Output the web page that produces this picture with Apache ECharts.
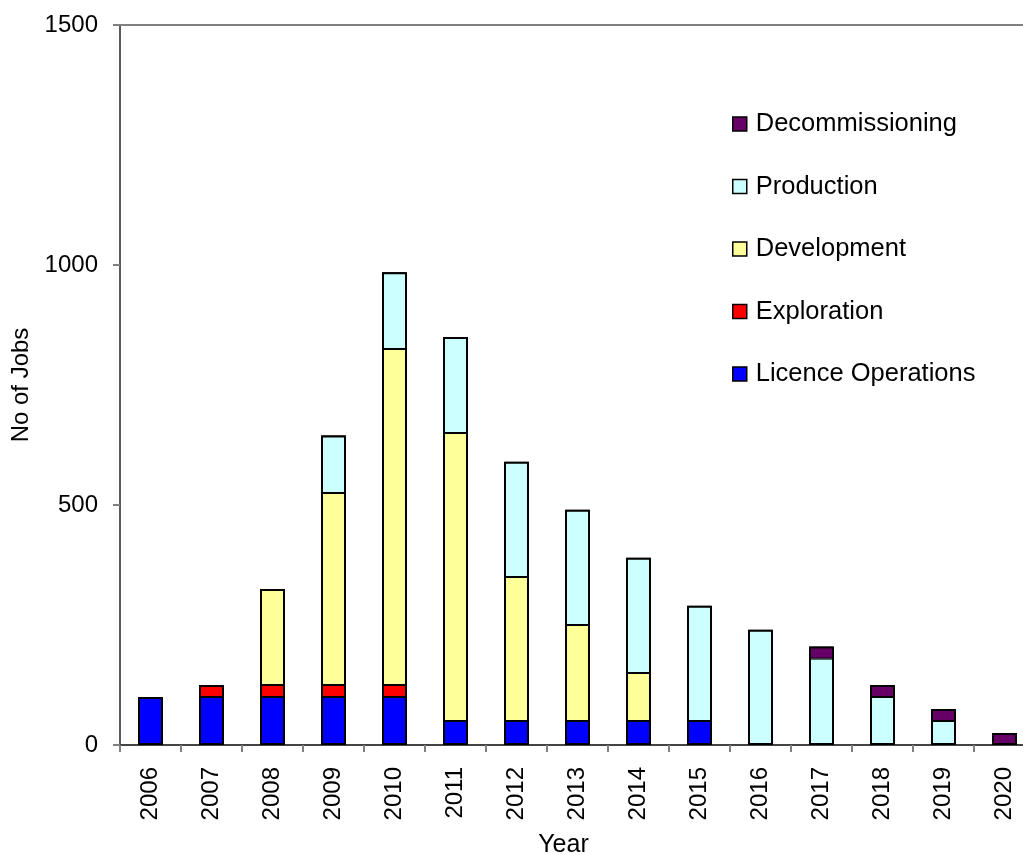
<!DOCTYPE html>
<html>
<head>
<meta charset="utf-8">
<title>No of Jobs by Year</title>
<script src="https://cdn.jsdelivr.net/npm/echarts@6/dist/echarts.min.js"></script>
<style>
  html, body { margin: 0; padding: 0; background: #ffffff; }
  #chart { width: 1023px; height: 854px; }
</style>
</head>
<body>
<div id="chart"></div>
<script>
// Years on the category axis
const years = ['2006', '2007', '2008', '2009', '2010', '2011', '2012', '2013',
               '2014', '2015', '2016', '2017', '2018', '2019', '2020'];

// Jobs per activity and year (stacked bottom to top)
const licenceOperations = [100, 100, 100, 100, 100, 50, 50, 50, 50, 50, 0, 0, 0, 0, 0];
const exploration       = [0, 25, 25, 25, 25, 0, 0, 0, 0, 0, 0, 0, 0, 0, 0];
const development       = [0, 0, 200, 400, 700, 600, 300, 200, 100, 0, 0, 0, 0, 0, 0];
const production        = [0, 0, 0, 120, 160, 200, 240, 240, 240, 240, 240, 180, 100, 50, 0];
const decommissioning   = [0, 0, 0, 0, 0, 0, 0, 0, 0, 0, 0, 25, 25, 25, 25];

// Value axis ticks
const yTicks = [0, 500, 1000, 1500];

const FONT = '"Liberation Sans", Arial, Helvetica, sans-serif';
const BAR_WIDTH = 25;

const seriesDefs = [
  { name: 'Licence Operations', data: licenceOperations, color: '#0000FF' },
  { name: 'Exploration',        data: exploration,       color: '#FF0000' },
  { name: 'Development',        data: development,       color: '#FFFF99' },
  { name: 'Production',         data: production,        color: '#CCFFFF' },
  { name: 'Decommissioning',    data: decommissioning,   color: '#660066' }
];

// Column totals, used for the heavier outline around each stacked column
const totals = years.map((_, i) => seriesDefs.reduce((sum, s) => sum + s.data[i], 0));

const chart = echarts.init(document.getElementById('chart'), null, { renderer: 'canvas' });

const stackSeries = seriesDefs.map(s => ({
  name: s.name,
  type: 'bar',
  stack: 'jobs',
  barWidth: BAR_WIDTH,
  barGap: '-100%',
  data: s.data.map(v => (v === 0 ? null : v)),
  itemStyle: { color: s.color, borderColor: '#000000', borderWidth: 1 },
  emphasis: { disabled: true }
}));

const outlineSeries = {
  name: 'Total',
  type: 'bar',
  barWidth: BAR_WIDTH,
  barGap: '-100%',
  silent: true,
  data: totals.map(v => (v === 0 ? null : v)),
  itemStyle: { color: 'rgba(0,0,0,0)', borderColor: '#000000', borderWidth: 2 },
  emphasis: { disabled: true },
  z: 3
};

chart.setOption({
  animation: false,
  backgroundColor: '#ffffff',
  textStyle: { fontFamily: FONT },
  grid: { left: 120, right: -12, top: 25, bottom: 109, outerBoundsMode: 'none', containLabel: false },
  legend: {
    orient: 'vertical',
    left: 727,
    top: 106,
    itemWidth: 14,
    itemHeight: 14,
    itemGap: 36.5,
    icon: 'rect',
    data: seriesDefs.map(s => s.name).reverse(),
    textStyle: { fontFamily: FONT, fontSize: 25.5, color: '#000000', padding: [0, 0, 0, 4] },
    itemStyle: { borderColor: '#000000', borderWidth: 1.5 }
  },
  xAxis: [
    {
      type: 'category',
      data: years,
      boundaryGap: true,
      name: 'Year',
      nameLocation: 'middle',
      nameGap: 88,
      nameTextStyle: { fontFamily: FONT, fontSize: 25, color: '#000000', padding: [0, 28, 0, 0] },
      axisLine: { show: true, lineStyle: { color: '#444444', width: 2 } },
      axisTick: { show: true, length: 7, inside: false, alignWithLabel: false, lineStyle: { color: '#808080', width: 2 } },
      axisLabel: { rotate: 90, margin: 22, fontFamily: FONT, fontSize: 24, color: '#000000', interval: 0 },
      splitLine: { show: false }
    },
    {
      type: 'category',
      data: years,
      position: 'top',
      axisLine: { show: true, lineStyle: { color: '#808080', width: 2 } },
      axisTick: { show: false },
      axisLabel: { show: false },
      splitLine: { show: false }
    }
  ],
  yAxis: {
    type: 'value',
    min: yTicks[0],
    max: yTicks[yTicks.length - 1],
    interval: yTicks[1] - yTicks[0],
    name: 'No of Jobs',
    nameLocation: 'middle',
    nameRotate: 90,
    nameGap: 75,
    nameTextStyle: { fontFamily: FONT, fontSize: 24, color: '#000000' },
    axisLine: { show: true, lineStyle: { color: '#222222', width: 1.5 } },
    axisTick: { show: true, length: 7, inside: false, lineStyle: { color: '#808080', width: 2 } },
    axisLabel: { margin: 22, fontFamily: FONT, fontSize: 24, color: '#000000', formatter: v => String(v) },
    splitLine: { show: false }
  },
  series: stackSeries.concat([outlineSeries])
});
</script>
</body>
</html>
